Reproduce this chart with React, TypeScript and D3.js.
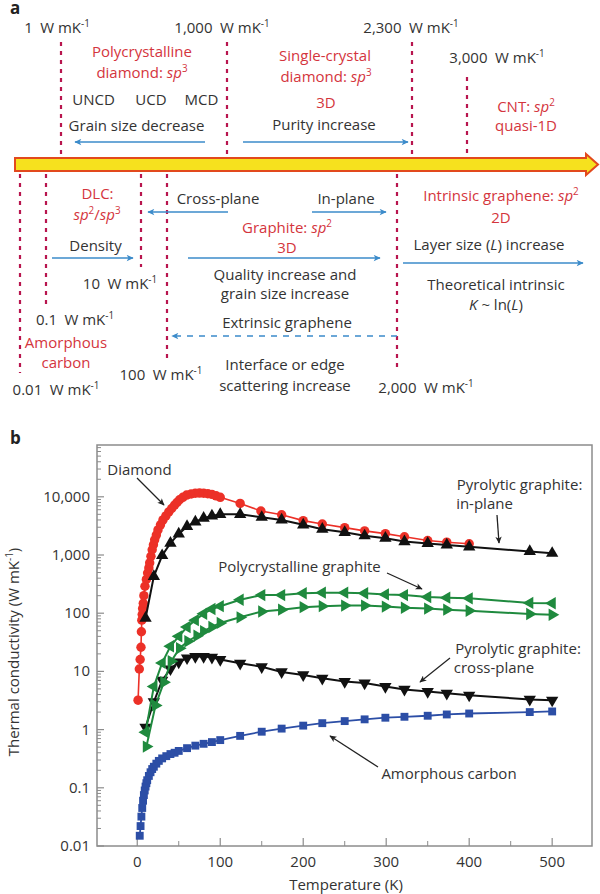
import React from 'react';
import * as d3 from 'd3';

const FONT = '"Open Sans", "Noto Sans", sans-serif';
const RED_TXT = '#d4353d';
const DASH = '#b8154e';
const BLUE = '#3b8bca';
const INK = '#333333';

// ---- panel b data (temperature K, conductivity W/mK) ----
const diamondT = [1, 2.5, 3.5, 4.5, 5, 5.5, 6, 6.5, 7.3, 8, 9.3, 11, 12.5, 14, 15, 16.5, 18, 19.5, 21, 23, 25, 28, 31, 34.5, 38, 41.5, 45, 48, 51, 55, 59.5, 65, 70, 75, 80, 85, 90, 95, 100, 124, 149, 174, 200, 223, 250, 274, 299, 322, 350, 373, 400];
const diamondK = [3.2, 11, 16, 26, 48, 76, 95, 120, 148, 200, 290, 380, 490, 600, 730, 950, 1230, 1500, 1820, 2200, 2700, 3300, 4000, 4700, 5500, 6300, 7200, 8000, 8900, 9800, 10700, 11200, 11500, 11600, 11500, 11300, 11000, 10400, 9800, 7700, 5700, 4900, 3900, 3400, 2950, 2600, 2330, 2060, 1770, 1660, 1560];

const inPlaneT = [10, 20, 30, 40, 50, 60, 70, 80, 90, 100, 124, 150, 174, 200, 223, 250, 274, 299, 322, 350, 373, 400, 473, 500];
const inPlaneK = [82, 430, 980, 1600, 2300, 3100, 3700, 4300, 4700, 5000, 5000, 4450, 4000, 3300, 2770, 2450, 2140, 1940, 1700, 1580, 1490, 1380, 1150, 1070];

const polyUpT = [10, 20, 30, 40, 50, 60, 70, 80, 90, 100, 124, 150, 174, 200, 223, 250, 274, 299, 322, 350, 373, 400, 473, 500];
const polyUpK = [0.9, 5.5, 14, 27, 40, 58, 76, 98, 118, 132, 170, 205, 205, 220, 225, 225, 220, 210, 205, 190, 185, 180, 150, 148];

const polyLoT = [11, 22, 32, 41, 51, 61, 72, 80, 90, 100, 124, 150, 174, 200, 223, 250, 274, 299, 322, 350, 373, 400, 473, 500];
const polyLoK = [0.51, 2.6, 6.5, 15, 25, 33, 41, 49, 58, 68, 85, 107, 115, 127, 132, 135, 135, 130, 124, 120, 115, 110, 97, 94];

const crossT = [10, 20, 30, 40, 50, 60, 70, 80, 90, 100, 124, 150, 174, 200, 223, 250, 274, 299, 322, 350, 373, 400, 473, 500];
const crossK = [1.1, 3.0, 7, 11, 14.5, 17, 18, 18, 17.5, 16, 13.8, 12, 9.8, 8.7, 7.6, 6.7, 6.3, 5.5, 4.9, 4.5, 4.2, 3.9, 3.3, 3.2];

const amorphT = [3, 4, 5, 6, 7, 8, 9, 10, 11, 12, 14, 16, 18, 20, 23, 26, 30, 35, 40, 45, 50, 60, 70, 80, 90, 100, 124, 150, 174, 200, 223, 250, 274, 299, 322, 350, 373, 400, 473, 500];
const amorphK = [0.015, 0.022, 0.032, 0.045, 0.06, 0.075, 0.09, 0.105, 0.12, 0.135, 0.16, 0.185, 0.21, 0.23, 0.26, 0.29, 0.32, 0.35, 0.38, 0.40, 0.43, 0.48, 0.53, 0.57, 0.61, 0.66, 0.78, 0.92, 1.04, 1.17, 1.29, 1.40, 1.50, 1.60, 1.66, 1.73, 1.82, 1.89, 2.0, 2.05];

const xTicks = [0, 100, 200, 300, 400, 500];
const xMinor = [50, 150, 250, 350, 450];
const yTicks = [0.01, 0.1, 1, 10, 100, 1000, 10000];
const yTickLabels = ['0.01', '0.1', '1', '10', '100', '1,000', '10,000'];

// ---- panel a schematic layout ----
type Lab = { x: number; y: number; s: string; red?: boolean };
const aLabels: Lab[] = [
  { x: 57, y: 33, s: '1\u2002W mK^-1^' },
  { x: 222, y: 33, s: '1,000\u2002W mK^-1^' },
  { x: 411, y: 33, s: '2,300\u2002W mK^-1^' },
  { x: 497, y: 63, s: '3,000\u2002W mK^-1^' },
  { x: 142, y: 57, s: 'Polycrystalline', red: true },
  { x: 142, y: 78, s: 'diamond: *sp*^3^', red: true },
  { x: 93.5, y: 105, s: 'UNCD' },
  { x: 151, y: 105, s: 'UCD' },
  { x: 201.5, y: 105, s: 'MCD' },
  { x: 136.5, y: 131, s: 'Grain size decrease' },
  { x: 325, y: 61, s: 'Single-crystal', red: true },
  { x: 326, y: 82, s: 'diamond: *sp*^3^', red: true },
  { x: 326, y: 108, s: '3D', red: true },
  { x: 324, y: 130, s: 'Purity increase' },
  { x: 526, y: 112, s: 'CNT: *sp*^2^', red: true },
  { x: 526, y: 131, s: 'quasi-1D', red: true },
  { x: 97.5, y: 199, s: 'DLC:', red: true },
  { x: 97, y: 220, s: '*sp*^2^/*sp*^3^', red: true },
  { x: 95.5, y: 251, s: 'Density' },
  { x: 120, y: 289, s: '10\u2002W mK^-1^' },
  { x: 218, y: 204, s: 'Cross-plane' },
  { x: 346, y: 204, s: 'In-plane' },
  { x: 287, y: 233, s: 'Graphite: *sp*^2^', red: true },
  { x: 287, y: 253, s: '3D', red: true },
  { x: 285, y: 280, s: 'Quality increase and' },
  { x: 285, y: 299, s: 'grain size increase' },
  { x: 501, y: 201, s: 'Intrinsic graphene: *sp*^2^', red: true },
  { x: 501, y: 223, s: '2D', red: true },
  { x: 489, y: 250, s: 'Layer size (*L*) increase' },
  { x: 496, y: 290, s: 'Theoretical intrinsic' },
  { x: 496, y: 310, s: '*K* ~ ln(*L*)' },
  { x: 75, y: 325, s: '0.1\u2002W mK^-1^' },
  { x: 66, y: 348, s: 'Amorphous', red: true },
  { x: 66, y: 368, s: 'carbon', red: true },
  { x: 56, y: 395, s: '0.01\u2002W mK^-1^' },
  { x: 161, y: 380, s: '100\u2002W mK^-1^' },
  { x: 287, y: 328, s: 'Extrinsic graphene' },
  { x: 285, y: 370, s: 'Interface or edge' },
  { x: 285, y: 391, s: 'scattering increase' },
  { x: 426, y: 393, s: '2,000\u2002W mK^-1^' },
];

// [x, y1, y2]
const aDashes = [
  [61, 42, 157], [227, 42, 157], [412, 42, 157], [467, 77, 157],
  [20, 174, 373], [46, 174, 306], [141, 174, 267], [167, 174, 362], [397, 174, 370],
];

// [x1, y1, x2, y2, dashed]
const aArrows: [number, number, number, number, boolean][] = [
  [205, 142, 75, 142, false],
  [243, 142, 408, 142, false],
  [52, 258, 133, 258, false],
  [228, 212, 148, 212, false],
  [312, 212, 386, 212, false],
  [188, 258, 380, 258, false],
  [403, 263, 583, 263, false],
  [397, 336, 172, 336, true],
];

// panel b annotations
const bLabels: Lab[] = [
  { x: 139.5, y: 475, s: 'Diamond' },
  { x: 519.5, y: 490, s: 'Pyrolytic graphite:' },
  { x: 484.5, y: 509, s: 'in-plane' },
  { x: 299.5, y: 572, s: 'Polycrystalline graphite' },
  { x: 518, y: 654, s: 'Pyrolytic graphite:' },
  { x: 494, y: 673, s: 'cross-plane' },
  { x: 449, y: 779, s: 'Amorphous carbon' },
];
const bArrows = [
  [137, 478, 164, 505],
  [497, 515, 499, 543],
  [387, 573, 422, 589],
  [450, 658, 420, 682],
  [378, 767, 330, 736],
];

function Rich({ x, y, s, size = 15, fill = INK, anchor = 'middle' }: { x: number; y: number; s: string; size?: number; fill?: string; anchor?: string }) {
  const parts = s.split(/(\*[^*]+\*|\^[^^]+\^)/).filter(p => p.length);
  let up = false;
  const shift = size * 0.4;
  return (
    <text x={x} y={y} fontSize={size} fill={fill} textAnchor={anchor as any}>
      {parts.map((p, i) => {
        const sup = p.startsWith('^');
        const it = p.startsWith('*');
        const t = sup || it ? p.slice(1, -1) : p;
        let dy: number | undefined;
        if (sup && !up) { dy = -shift; up = true; }
        else if (!sup && up) { dy = shift; up = false; }
        return (
          <tspan key={i} dy={dy} fontSize={sup ? size * 0.66 : undefined} fontStyle={it ? 'italic' : undefined}>{t}</tspan>
        );
      })}
    </text>
  );
}

export default function App() {
  const x = d3.scaleLinear().domain([-48.5, 548]).range([97, 592]);
  const y = d3.scaleLog().domain([0.01, Math.pow(10, 4.89)]).range([846, 445]);
  const line = d3.line<[number, number]>().x(d => x(d[0])).y(d => y(d[1]));

  const tri = d3.symbol().type(d3.symbolTriangle).size(66)() as string;
  const circ = d3.symbol().type(d3.symbolCircle).size(70)() as string;
  const sq = d3.symbol().type(d3.symbolSquare).size(62)() as string;

  const series = [
    { T: amorphT, K: amorphK, color: '#2c4ea6', path: sq, rot: 0, w: 1.8 },
    { T: crossT, K: crossK, color: '#111111', path: tri, rot: 180, w: 2 },
    { T: polyLoT, K: polyLoK, color: '#1f8a3e', path: tri, rot: 90, w: 2 },
    { T: polyUpT, K: polyUpK, color: '#1f8a3e', path: tri, rot: -90, w: 2 },
    { T: diamondT, K: diamondK, color: '#ec3027', path: circ, rot: 0, w: 1.6 },
    { T: inPlaneT, K: inPlaneK, color: '#111111', path: tri, rot: 0, w: 2 },
  ];

  const yMinor: number[] = [];
  for (let d = -2; d <= 4; d++) {
    for (let m = 2; m <= 9; m++) {
      const v = m * Math.pow(10, d);
      if (v < Math.pow(10, 4.89)) yMinor.push(v);
    }
  }

  return (
    <svg width={600} height={894} style={{ position: 'absolute', left: 0, top: 0, background: '#fff' }} fontFamily={FONT}>
      <defs>
        <marker id="bh" viewBox="0 0 10 10" refX="9" refY="5" markerWidth="9" markerHeight="7" markerUnits="userSpaceOnUse" orient="auto">
          <path d="M0,0.5 L10,5 L0,9.5 L2.5,5 Z" fill={BLUE} />
        </marker>
        <marker id="kh" viewBox="0 0 10 10" refX="9" refY="5" markerWidth="9" markerHeight="7" markerUnits="userSpaceOnUse" orient="auto">
          <path d="M0,0.5 L10,5 L0,9.5 L2.5,5 Z" fill="#222" />
        </marker>
      </defs>

      {/* panel a */}
      <text x={10} y={14} fontSize={17} fontWeight="bold" fill="#222">a</text>
      <path d="M15,158 L586,158 L586,154 L598,164.5 L586,175 L586,171 L15,171 Z" fill="#f6e11e" stroke="#e2491d" strokeWidth={2} strokeLinejoin="miter" />
      {aDashes.map(([dx, y1, y2], i) => (
        <line key={i} x1={dx} x2={dx} y1={y1} y2={y2} stroke={DASH} strokeWidth={2.2} strokeDasharray="4 5" />
      ))}
      {aArrows.map(([x1, y1, x2, y2, dashed], i) => (
        <line key={i} x1={x1} y1={y1} x2={x2} y2={y2} stroke={BLUE} strokeWidth={1.6}
          strokeDasharray={dashed ? '6 6' : undefined} markerEnd="url(#bh)" />
      ))}
      {aLabels.map((l, i) => (
        <Rich key={i} x={l.x} y={l.y} s={l.s} fill={l.red ? RED_TXT : INK} />
      ))}

      {/* panel b */}
      <text x={10} y={444} fontSize={17} fontWeight="bold" fill="#222">b</text>
      <rect x={97} y={445} width={495} height={401} fill="none" stroke="#8c8c8c" strokeWidth={1.5} />
      {yTicks.map((v, i) => (
        <g key={i}>
          <line x1={97} x2={104} y1={y(v)} y2={y(v)} stroke="#8c8c8c" strokeWidth={1.2} />
          <text x={90} y={y(v) + 5} fontSize={15} fill={INK} textAnchor="end">{yTickLabels[i]}</text>
        </g>
      ))}
      {yMinor.map((v, i) => (
        <line key={i} x1={97} x2={101} y1={y(v)} y2={y(v)} stroke="#8c8c8c" strokeWidth={1} />
      ))}
      {xTicks.map(v => (
        <g key={v}>
          <line x1={x(v)} x2={x(v)} y1={846} y2={838} stroke="#8c8c8c" strokeWidth={1.2} />
          <text x={x(v)} y={867} fontSize={15} fill={INK} textAnchor="middle">{v}</text>
        </g>
      ))}
      {xMinor.map(v => (
        <line key={v} x1={x(v)} x2={x(v)} y1={846} y2={841} stroke="#8c8c8c" strokeWidth={1} />
      ))}
      <text x={346} y={890} fontSize={15} fill={INK} textAnchor="middle">Temperature (K)</text>
      <g transform="translate(19,652) rotate(-90)">
        <Rich x={0} y={0} s="Thermal conductivity (W mK^-1^)" />
      </g>

      {series.map((s, si) => {
        const pts = s.T.map((t, i) => [t, s.K[i]] as [number, number]);
        return (
          <g key={si}>
            <path d={line(pts) || ''} fill="none" stroke={s.color} strokeWidth={s.w} />
            {pts.map((p, i) => (
              <path key={i} d={s.path} fill={s.color}
                transform={`translate(${x(p[0])},${y(p[1])}) rotate(${s.rot})`} />
            ))}
          </g>
        );
      })}

      {bArrows.map(([x1, y1, x2, y2], i) => (
        <line key={i} x1={x1} y1={y1} x2={x2} y2={y2} stroke="#222" strokeWidth={1.3} markerEnd="url(#kh)" />
      ))}
      {bLabels.map((l, i) => (
        <Rich key={i} x={l.x} y={l.y} s={l.s} />
      ))}
    </svg>
  );
}
